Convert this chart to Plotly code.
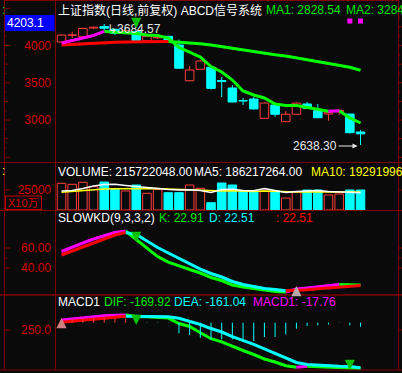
import plotly.graph_objects as go

W, H = 402, 373

# ---- daily bars (index 0 = oldest) ----
opens = [3529, 3588, 3574, 3650, 3662, 3639, 3612, 3618, 3540, 3565, 3578, 3503, 3194, 3293,
         3310, 3196, 3131, 3022, 3036, 2869, 2984, 2840, 2904, 2993, 2935, 2906, 2925, 2906, 2751]
highs = [3595, 3618, 3652, 3662, 3684.57, 3645, 3637, 3624, 3590, 3580, 3584, 3550, 3321, 3372,
         3312, 3226, 3157, 3045, 3055, 3005, 2990, 2932, 3005, 3010, 2993, 2924, 2940, 2907, 2767]
lows = [3524, 3561, 3570, 3641, 3632, 3590, 3606, 3538, 3535, 3555, 3540, 3300, 3190, 3290,
        3118, 3053, 3008, 2984, 2945, 2866, 2883, 2836, 2900, 2950, 2872, 2848, 2899, 2738, 2638.30]
closes = [3589, 3590, 3646, 3657, 3648, 3604, 3628, 3540, 3578, 3572, 3546, 3302, 3287, 3365,
          3128, 3187, 3010, 3019, 2950, 3001, 2904, 2904, 3000, 2956, 2874, 2918, 2938, 2745, 2735]

volumes = [287960000, 277180000, 298750000, 251320000, 302000000, 223280000, 204900000,
           269650000, 180130000, 223280000, 186600000, 186600000, 269650000, 234060000,
           78740000, 291220000, 269650000, 204900000, 194080000, 215720000, 204900000,
           129430000, 194080000, 215720000, 215720000, 161790000, 172580000, 215720000,
           215722048]

ma1 = [3520, 3542, 3563, 3585, 3620, 3615, 3611, 3603, 3589, 3585, 3563, 3481, 3442, 3399,
       3317, 3270, 3200, 3105, 3071, 3045, 2993, 2980, 2979, 2963, 2941, 2931, 2934, 2872, 2828.54]
ma2 = [3503, 3509, 3515, 3520, 3524, 3527, 3528, 3530, 3531, 3532, 3532.5, 3527, 3519, 3514,
       3503, 3488, 3475, 3460, 3443, 3434, 3418, 3407, 3391, 3375, 3363, 3345, 3328, 3310, 3284.16]

vol_ma5 = [204900000, 210300000, 231900000, 258900000, 275000000, 277200000, 264300000,
           255600000, 242700000, 231900000, 221100000, 215700000, 219000000, 210300000,
           188800000, 221100000, 223300000, 210300000, 208200000, 231900000, 210300000,
           188800000, 199500000, 204900000, 210300000, 199500000, 194100000, 194100000,
           186217264]
vol_ma10 = [190900000, 199500000, 210300000, 221100000, 226500000, 229700000, 231900000,
            234100000, 234100000, 231900000, 226500000, 221100000, 215700000, 210300000,
            202800000, 204900000, 208200000, 204900000, 199500000, 204900000, 199500000,
            194100000, 194100000, 197400000, 199500000, 194100000, 194100000, 194100000,
            192919960]

k_line = [56.5, 61, 65, 69, 72.5, 75.5, 77, 68.5, 60.3, 51.4, 45.8, 41.9, 38.5, 35, 30.5,
          27.5, 23, 21, 19.5, 17.5, 16.5, 16.0, 19, 20, 21, 22, 23.5, 23.0, 22.91]
d_line = [53, 57, 61, 65, 69, 73, 75.5, 73.5, 67, 60.5, 55, 49.5, 44, 38.8, 34.5, 31, 26.5,
          23.5, 21.5, 19.5, 18.5, 17.3, 17.6, 18.3, 19.2, 20, 21, 21.7, 22.51]

dif = [359, 372, 384, 394, 404, 410, 413, 398, 395, 391, 380, 321, 288, 220.6, 155, 121, 70,
       26.5, -17, -66, -99, -140, -157, -145, -151, -159, -164, -167.5, -169.92]
dea = [334, 346, 358, 370, 381, 389.5, 400, 399.5, 399, 398, 394, 377.5, 346, 310, 266, 228,
       177, 135.5, 94, 43, -6, -55, -104, -126, -134, -140, -145, -148, -161.04]
macd_hist = [13.3, 17.8, 20, 22.2, 22.2, 20, 17.8, -2.2, -1.3, -1.3, -1.3, -47, -54.6, -66.6,
             -75.5, -74.2, -74.2, -84.4, -81.3, -63.5, -63.5, -52, -26.6, -14.7, -12, -7.5,
             -1.0, -12, -17.76]

# axis scale labels
price_ticks = [3000, 3500, 4000]
vol_ticks = [25000]
kd_ticks = [40, 60]
macd_ticks = [250]
axis_flag = "4203.1"

# signal marks (bar indices)
sell_marks = [7]
macd_sell_marks = [7, 27]
macd_buy_marks = [0]
kd_buy_marks = [22]
alert_marks = [27, 28]
alert_level = 3710

# ---- styling ----
BG = "#0a0a0a"
FRAME = "#800000"
TICK_RED = "#d40000"
RED = "#ff3c3c"
LINE_RED = "#ff0000"
CYAN = "#00ffff"
GREEN = "#00ff00"
TXT_GREEN = "#00e600"
MAGENTA = "#ff00ff"
YELLOW = "#ffff00"
WHITE = "#ffffff"
FONT = "Liberation Sans, Noto Sans CJK SC, DejaVu Sans"


def px(x):
    return x / W


def py(y):
    return 1 - y / H


fig = go.Figure()
idx = list(range(len(opens)))
up = [i for i in idx if closes[i] >= opens[i]]
dn = [i for i in idx if closes[i] < opens[i]]


def slope_runs(vals):
    runs = []
    for i in range(len(vals) - 1):
        r = vals[i + 1] > vals[i]
        if runs and runs[-1][2] == r:
            runs[-1][1] = i + 1
        else:
            runs.append([i, i + 1, r])
    return runs


def slope_line(vals, yaxis, up_col, dn_col, width):
    runs = slope_runs(vals)
    for rising, col in ((False, dn_col), (True, up_col)):
        xs, ys = [], []
        for s, e, r in runs:
            if r == rising:
                xs += list(range(s, e + 1)) + [None]
                ys += list(vals[s:e + 1]) + [None]
        fig.add_trace(go.Scatter(x=xs, y=ys, mode="lines", yaxis=yaxis,
                                 line=dict(color=col, width=width), hoverinfo="skip"))


# ---- price panel: candles ----
def wicks(ids):
    xs, ys = [], []
    for i in ids:
        top, bot = max(opens[i], closes[i]), min(opens[i], closes[i])
        if highs[i] > top:
            xs += [i, i, None]
            ys += [top, highs[i], None]
        if lows[i] < bot:
            xs += [i, i, None]
            ys += [bot, lows[i], None]
    return xs, ys


fig.add_trace(go.Bar(x=up, y=[abs(closes[i] - opens[i]) for i in up],
                     base=[min(opens[i], closes[i]) for i in up], width=0.8, yaxis="y",
                     marker=dict(color=BG, line=dict(color=RED, width=1)), hoverinfo="skip"))
fig.add_trace(go.Bar(x=dn, y=[abs(closes[i] - opens[i]) for i in dn],
                     base=[min(opens[i], closes[i]) for i in dn], width=0.8, yaxis="y",
                     marker=dict(color=CYAN, line=dict(color=CYAN, width=1)), hoverinfo="skip"))
for ids, col in ((up, RED), (dn, CYAN)):
    wx, wy = wicks(ids)
    fig.add_trace(go.Scatter(x=wx, y=wy, mode="lines", yaxis="y",
                             line=dict(color=col, width=1), hoverinfo="skip"))

slope_line(ma2, "y", LINE_RED, GREEN, 3)
slope_line(ma1, "y", MAGENTA, GREEN, 3)

fig.add_trace(go.Scatter(x=alert_marks, y=[alert_level] * len(alert_marks), mode="markers",
                         yaxis="y", marker=dict(symbol="square", size=5, color=MAGENTA),
                         hoverinfo="skip"))

# ---- volume panel ----
fig.add_trace(go.Bar(x=up, y=[volumes[i] for i in up], width=0.8, yaxis="y2",
                     marker=dict(color=BG, line=dict(color=RED, width=1)), hoverinfo="skip"))
fig.add_trace(go.Bar(x=dn, y=[volumes[i] for i in dn], width=0.8, yaxis="y2",
                     marker=dict(color=CYAN, line=dict(color=CYAN, width=1)), hoverinfo="skip"))
fig.add_trace(go.Scatter(x=idx, y=vol_ma10, mode="lines", yaxis="y2",
                         line=dict(color=YELLOW, width=1.5), hoverinfo="skip"))
fig.add_trace(go.Scatter(x=idx, y=vol_ma5, mode="lines", yaxis="y2",
                         line=dict(color=WHITE, width=1.5), hoverinfo="skip"))

# ---- slow KD panel ----
slope_line(k_line, "y3", MAGENTA, GREEN, 3)
slope_line(d_line, "y3", LINE_RED, CYAN, 3)

# ---- MACD panel ----
for sign, col in ((1, RED), (-1, CYAN)):
    hx, hy = [], []
    for i, v in enumerate(macd_hist):
        if v * sign > 0:
            hx += [i, i, None]
            hy += [0, v, None]
    fig.add_trace(go.Scatter(x=hx, y=hy, mode="lines", yaxis="y5",
                             line=dict(color=col, width=1), hoverinfo="skip"))
slope_line(dif, "y4", MAGENTA, GREEN, 3)
slope_line(dea, "y4", LINE_RED, CYAN, 3)

# scale-only axes
fig.add_trace(go.Scatter(x=[None], y=[None], yaxis="y6", hoverinfo="skip"))
fig.add_trace(go.Scatter(x=[None], y=[None], yaxis="y7", hoverinfo="skip"))

# ---- axes ----
price_dom = [py(162), py(1)]
vol_dom = [py(210), py(162)]
kd_dom = [py(295), py(210)]
macd_dom = [py(372), py(296)]

hidden = dict(visible=False, fixedrange=True)
tick_axis = dict(showgrid=False, zeroline=False, showline=False, ticks="", anchor="x",
                 side="left", ticklabelstandoff=3, fixedrange=True,
                 tickfont=dict(color=TICK_RED, size=12, family="Liberation Sans"))

fig.update_layout(
    width=W, height=H, margin=dict(l=0, r=0, t=0, b=0),
    paper_bgcolor=BG, plot_bgcolor=BG, template="none", showlegend=False,
    barmode="overlay", font=dict(family=FONT, size=12, color=WHITE),
    xaxis=dict(domain=[px(55), px(398)], range=[-0.61, 31.51], **hidden),
    yaxis=dict(domain=price_dom, range=[2491.3, 3883.5], anchor="x", **hidden),
    yaxis2=dict(domain=vol_dom, range=[0, 517733000], anchor="x", **hidden),
    yaxis3=dict(domain=kd_dom, range=[13, 98], tickvals=kd_ticks, tickformat=".2f",
                **tick_axis),
    yaxis4=dict(domain=macd_dom, range=[-207.8, 620.6], tickvals=macd_ticks,
                tickformat=".1f", **tick_axis),
    yaxis5=dict(overlaying="y4", range=[-218.9, 118.5], anchor="x", **hidden),
    yaxis6=dict(overlaying="y", range=[2437, 4598], tickvals=price_ticks, tickformat="d",
                **tick_axis),
    yaxis7=dict(overlaying="y2", range=[0, 60000], tickvals=vol_ticks, tickformat="d",
                **tick_axis),
)

# ---- frame and tick marks ----
shapes = []


def hline(y, x0=0, x1=W, w=1):
    shapes.append(dict(type="line", xref="paper", yref="paper", x0=px(x0), x1=px(x1),
                       y0=py(y), y1=py(y), line=dict(color=FRAME, width=w)))


def vline(x, y0=0, y1=370, w=1):
    shapes.append(dict(type="line", xref="paper", yref="paper", x0=px(x), x1=px(x),
                       y0=py(y0), y1=py(y1), line=dict(color=FRAME, width=w)))


vline(4.5)
vline(55.5)
vline(398.5)
hline(0.5, 4, 398)
hline(162.5)
hline(210.5)
hline(295, w=1.5)
hline(370)


def tick(yref, v, length):
    for x0, x1 in ((4.5, 4.5 + length), (398.5, 398.5 + length)):
        shapes.append(dict(type="line", xref="paper", yref=yref, x0=px(x0), x1=px(x1),
                           y0=v, y1=v, line=dict(color=FRAME, width=1)))


for v in range(2500, 4501, 125):
    tick("y6", v, 6 if v % 500 == 0 else (4 if v % 250 == 0 else 2))
for v in vol_ticks:
    tick("y7", v, 6)
for v in kd_ticks:
    tick("y3", v, 6)
tick("y3", 50, 3)
for v in macd_ticks:
    tick("y4", v, 6)

# axis flag box and unit box
shapes.append(dict(type="rect", xref="paper", yref="paper", x0=px(5), x1=px(54.5),
                   y0=py(31), y1=py(15), fillcolor="#0000ff", line=dict(width=0)))
shapes.append(dict(type="rect", xref="paper", yref="paper", x0=px(5.5), x1=px(41.5),
                   y0=py(209.5), y1=py(196), line=dict(color="#c00000", width=1)))

# ---- texts ----
ann = []


def label(x, y, text, color, size=12, anchor="left"):
    ann.append(dict(xref="paper", yref="paper", x=px(x), y=py(y), text=text,
                    showarrow=False, xanchor=anchor, yanchor="middle",
                    font=dict(color=color, size=size, family=FONT)))


label(56, 10, "上证指数(日线,前复权) ABCD信号系统", WHITE)
label(264, 10, f"MA1: {ma1[-1]:.2f}", TXT_GREEN)
label(344, 10, f"MA2: {ma2[-1]:.2f}", TXT_GREEN)
label(5, 23, axis_flag, WHITE)
label(0, 10, ":", TXT_GREEN)
label(0, 171, ":", YELLOW)

label(56, 172, f"VOLUME: {volumes[-1]:.2f}", WHITE)
label(192, 172, f"MA5: {vol_ma5[-1]:.2f}", WHITE)
label(309, 172, f"MA10: {vol_ma10[-1]:.2f}", YELLOW)
label(23.5, 203, "X10万", "#d00000", size=11, anchor="center")

label(56, 218, "SLOWKD(9,3,3,2)", WHITE)
label(157, 218, f"K: {k_line[-1]:.2f}", TXT_GREEN)
label(207, 218, f"D: {d_line[-1]:.2f}", CYAN)
label(274, 218, f": {d_line[-1]:.2f}", LINE_RED)

label(56, 302, "MACD1", WHITE)
label(102, 302, f"DIF: {dif[-1]:.2f}", TXT_GREEN)
label(172, 302, f"DEA: {dea[-1]:.2f}", CYAN)
label(251, 302, f"MACD1: {macd_hist[-1]:.2f}", MAGENTA)

# extreme price labels
hi_i = highs.index(max(highs))
lo_i = lows.index(min(lows))
ann.append(dict(x=hi_i, y=highs[hi_i], xref="x", yref="y", text=f"↳{highs[hi_i]:.2f}",
                showarrow=False, xanchor="left", yanchor="middle", xshift=1, yshift=-5,
                font=dict(color="#e8e8e8", size=12, family=FONT)))
ann.append(dict(x=lo_i, y=lows[lo_i], xref="x", yref="y", text=f"{lows[lo_i]:.2f}",
                showarrow=True, ax=-22, ay=0, xanchor="right", yanchor="middle",
                arrowhead=2, arrowsize=1, arrowwidth=1, arrowcolor="#e8e8e8",
                standoff=3, yshift=-1, font=dict(color="#e8e8e8", size=12, family=FONT)))


def arrow(i, v, yref, color, down=True, shift=0):
    ann.append(dict(x=i, y=v, xref="x", yref=yref, text="", showarrow=True, ax=0,
                    ay=-11 if down else 11, arrowhead=2, arrowsize=0.68, arrowwidth=3,
                    arrowcolor=color, standoff=0, yshift=shift))


for i in sell_marks:
    arrow(i, highs[i], "y", "#00c000", True, 3)
    arrow(i, k_line[i], "y3", "#00c000", True, -2.5)
for i in macd_sell_marks:
    arrow(i, dif[i], "y4", "#00c000", True, -8.6 if i < 20 else -1.7)
for i in macd_buy_marks:
    arrow(i, dif[i], "y4", "#d08080", False, 2)
for i in kd_buy_marks:
    arrow(i, k_line[i], "y3", "#b8a8a8", False, 3)

fig.update_layout(shapes=shapes, annotations=ann)
fig.write_html("out.html")
